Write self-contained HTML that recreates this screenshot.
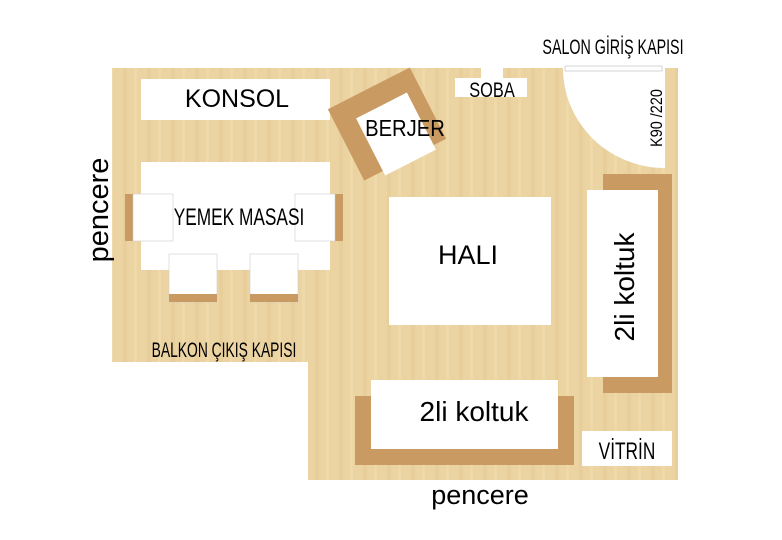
<!DOCTYPE html>
<html><head><meta charset="utf-8"><style>html,body{margin:0;padding:0;background:#fff}svg{display:block}</style></head>
<body>
<svg width="782" height="540" viewBox="0 0 782 540" xmlns="http://www.w3.org/2000/svg" font-family="Liberation Sans, DejaVu Sans, sans-serif">
<defs>
<pattern id="wood" width="24" height="540" patternUnits="userSpaceOnUse">
<rect width="24" height="540" fill="#ebd4a2"/>
<rect x="3" width="4" height="540" fill="#e4c994" opacity="0.6"/>
<rect x="14" width="3" height="540" fill="#f1dcad" opacity="0.7"/>
</pattern>
</defs>
<path d="M112 68 H678 V480 H308 V362 H112 Z" fill="url(#wood)"/>
<!-- konsol -->
<rect x="141" y="79" width="189" height="41" fill="#fff"/>
<text x="237" y="107" font-size="25" text-anchor="middle">KONSOL</text>
<!-- berjer -->
<g transform="translate(387,124) rotate(-27)">
<rect x="-46" y="-40" width="92" height="80" fill="#c99a62"/>
<rect x="-25" y="-19" width="57" height="64" fill="#fff"/>
</g>
<text x="405" y="136" font-size="23" text-anchor="middle" transform="translate(405,128) scale(0.88,1) translate(-405,-128)">BERJER</text>
<!-- soba -->
<rect x="481" y="68" width="22" height="10" fill="#fff"/>
<rect x="455" y="78" width="72" height="19" fill="#fff"/>
<text x="492" y="97" font-size="21" text-anchor="middle" transform="translate(492,88) scale(0.78,1) translate(-492,-88)">SOBA</text>
<!-- door -->
<path d="M563 68 A102 100 0 0 0 665 168 V68 Z" fill="#fff"/>
<rect x="565" y="66" width="97" height="5" fill="#fff" stroke="#bbb" stroke-width="0.6"/>
<text x="0" y="0" font-size="17" text-anchor="middle" transform="translate(662,118) rotate(-90) scale(0.85,1)">K90 /220</text>
<text x="613" y="54" font-size="21" text-anchor="middle" transform="translate(613,46) scale(0.68,1) translate(-613,-46)">SALON GİRİŞ KAPISI</text>
<!-- table -->
<rect x="125" y="194" width="10" height="47" fill="#c99a62"/>
<rect x="333" y="194" width="10" height="47" fill="#c99a62"/>
<rect x="141" y="162" width="189" height="108" fill="#fff"/>
<rect x="133" y="194" width="40" height="47" fill="#fff" stroke="#ccc" stroke-width="0.6"/>
<rect x="295" y="194" width="40" height="47" fill="#fff" stroke="#ccc" stroke-width="0.6"/>
<rect x="169" y="254" width="48" height="48" fill="#fff" stroke="#ccc" stroke-width="0.6"/>
<rect x="169" y="294" width="48" height="8" fill="#c99a62"/>
<rect x="250" y="254" width="48" height="48" fill="#fff" stroke="#ccc" stroke-width="0.6"/>
<rect x="250" y="294" width="48" height="8" fill="#c99a62"/>
<text x="239" y="225" font-size="24" text-anchor="middle" transform="translate(239,216) scale(0.72,1) translate(-239,-216)">YEMEK MASASI</text>
<text x="0" y="0" font-size="29" text-anchor="middle" transform="translate(108,210) rotate(-90)">pencere</text>
<text x="224" y="357" font-size="21" text-anchor="middle" transform="translate(224,349) scale(0.66,1) translate(-224,-349)">BALKON ÇIKIŞ KAPISI</text>
<!-- hali -->
<rect x="389" y="197" width="162" height="128" fill="#fff"/>
<text x="468" y="264" font-size="27" text-anchor="middle">HALI</text>
<!-- right koltuk -->
<rect x="603" y="174" width="69" height="219" fill="#c99a62"/>
<rect x="587" y="190" width="71" height="187" fill="#fff"/>
<text x="0" y="0" font-size="28" text-anchor="middle" transform="translate(634,287) rotate(-90)">2li koltuk</text>
<!-- bottom koltuk -->
<rect x="355" y="396" width="219" height="69" fill="#c99a62"/>
<rect x="371" y="380" width="187" height="69" fill="#fff"/>
<text x="474" y="421" font-size="28" text-anchor="middle">2li koltuk</text>
<!-- vitrin -->
<rect x="582" y="431" width="90" height="35" fill="#fff"/>
<text x="627" y="459" font-size="24" text-anchor="middle" transform="translate(627,449) scale(0.72,1) translate(-627,-449)">VİTRİN</text>
<text x="480" y="504" font-size="27" text-anchor="middle">pencere</text>
</svg>
</body></html>
